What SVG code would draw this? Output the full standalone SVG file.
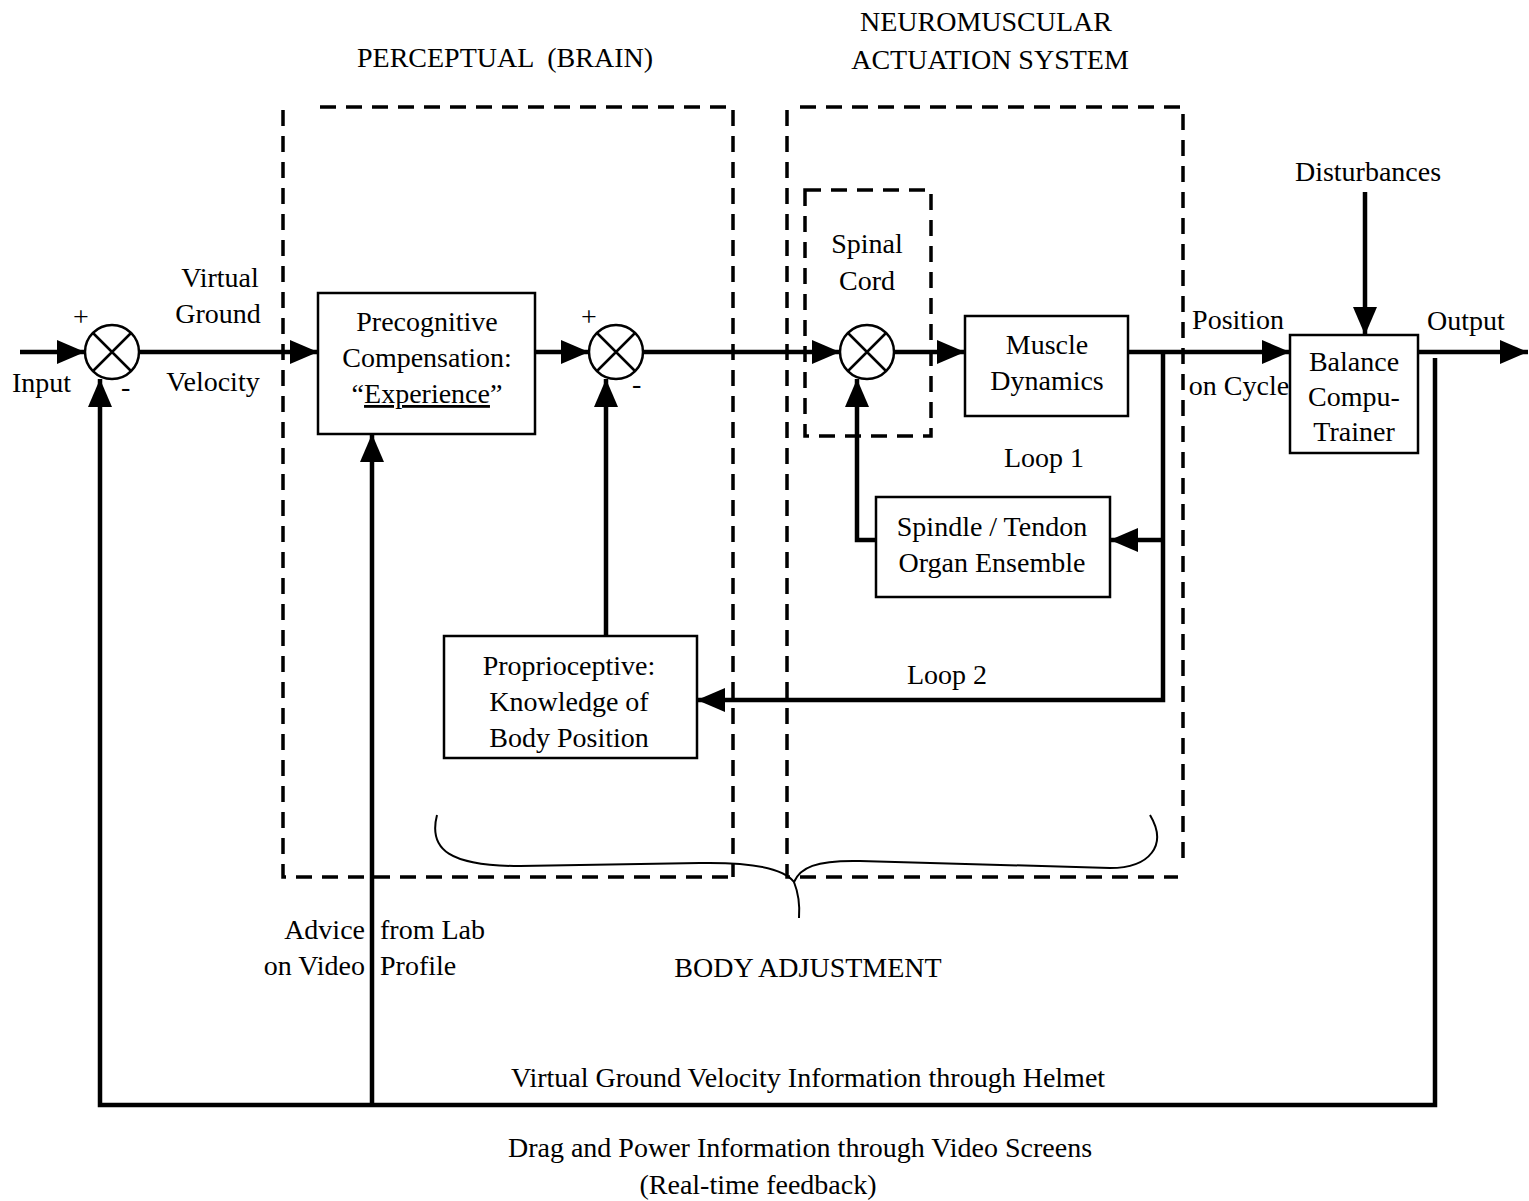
<svg xmlns="http://www.w3.org/2000/svg" width="1529" height="1201" viewBox="0 0 1529 1201">
<style>
text{font-family:"Liberation Serif","Times New Roman",serif;font-size:28px;fill:#000}
.c{text-anchor:middle}
.e{text-anchor:end}
.box{fill:#fff;stroke:#000;stroke-width:2.5}
.sum{fill:#fff;stroke:#000;stroke-width:2.5}
.x{stroke:#000;stroke-width:2.5}
.w{fill:none;stroke:#000;stroke-width:4.5}
.dash{fill:none;stroke:#000;stroke-width:3.5;stroke-dasharray:16 10}
.brace{fill:none;stroke:#000;stroke-width:2}
</style>
<defs>
<marker id="ah" markerUnits="userSpaceOnUse" markerWidth="30" markerHeight="24" refX="28" refY="12" orient="auto">
<path d="M0,0 L28,12 L0,24 z" fill="#000"/>
</marker>
</defs>

<g id="region-perceptual">
<path class="dash" d="M283,110 V877 H733 M320,107 H733 V877"/>
<text class="c" x="505" y="67" xml:space="preserve">PERCEPTUAL  (BRAIN)</text>
</g>
<g id="region-neuromuscular">
<path class="dash" d="M787,110 V877 H1178 M800,107 H1183 V868"/>
<text class="c" x="986" y="31">NEUROMUSCULAR</text>
<text class="c" x="990" y="69">ACTUATION SYSTEM</text>
</g>
<g id="region-spinal">
<rect class="dash" x="805" y="190" width="126" height="246"/>
<text class="c" x="867" y="253">Spinal</text>
<text class="c" x="867" y="290">Cord</text>
</g>

<g id="connectors">
<path class="w" d="M20,352 H85" marker-end="url(#ah)"/>
<path class="w" d="M139,352 H318" marker-end="url(#ah)"/>
<path class="w" d="M535,352 H589" marker-end="url(#ah)"/>
<path class="w" d="M643,352 H840" marker-end="url(#ah)"/>
<path class="w" d="M894,352 H965" marker-end="url(#ah)"/>
<path class="w" d="M1128,352 H1290" marker-end="url(#ah)"/>
<path class="w" d="M1418,352 H1528" marker-end="url(#ah)"/>
<path class="w" d="M1365,192 V335" marker-end="url(#ah)"/>
<path class="w" d="M1163,352 V700 H697" marker-end="url(#ah)"/>
<path class="w" d="M1163,540 H1110" marker-end="url(#ah)"/>
<path class="w" d="M876,540 H857 V379" marker-end="url(#ah)"/>
<path class="w" d="M606,636 V379" marker-end="url(#ah)"/>
<path class="w" d="M1435,358 V1105 H100 V379" marker-end="url(#ah)"/>
<path class="w" d="M372,1105 V434" marker-end="url(#ah)"/>
</g>

<g id="sum1">
<circle class="sum" cx="112" cy="352" r="27"/>
<path class="x" d="M93,333 L131,371 M131,333 L93,371"/>
<text x="73" y="326" font-size="26">+</text>
<text x="121" y="396" font-size="26">-</text>
</g>
<g id="sum2">
<circle class="sum" cx="616" cy="352" r="27"/>
<path class="x" d="M597,333 L635,371 M635,333 L597,371"/>
<text x="581" y="326" font-size="26">+</text>
<text x="632" y="393" font-size="26">-</text>
</g>
<g id="sum3">
<circle class="sum" cx="867" cy="352" r="27"/>
<path class="x" d="M848,333 L886,371 M886,333 L848,371"/>
</g>

<g id="precognitive">
<rect class="box" x="318" y="293" width="217" height="141"/>
<text class="c" x="427" y="331">Precognitive</text>
<text class="c" x="427" y="367">Compensation:</text>
<text class="c" x="427" y="403">“<tspan text-decoration="underline">Experience</tspan>”</text>
</g>
<g id="muscle">
<rect class="box" x="965" y="316" width="163" height="100"/>
<text class="c" x="1047" y="354">Muscle</text>
<text class="c" x="1047" y="390">Dynamics</text>
</g>
<g id="spindle">
<rect class="box" x="876" y="497" width="234" height="100"/>
<text class="c" x="992" y="536">Spindle / Tendon</text>
<text class="c" x="992" y="572">Organ Ensemble</text>
</g>
<g id="proprioceptive">
<rect class="box" x="444" y="636" width="253" height="122"/>
<text class="c" x="569" y="675">Proprioceptive:</text>
<text class="c" x="569" y="711">Knowledge of</text>
<text class="c" x="569" y="747">Body Position</text>
</g>
<g id="balance">
<rect class="box" x="1290" y="335" width="128" height="118"/>
<text class="c" x="1354" y="371">Balance</text>
<text class="c" x="1354" y="406">Compu-</text>
<text class="c" x="1354" y="441">Trainer</text>
</g>

<g id="labels">
<text x="12" y="392">Input</text>
<text class="c" x="220" y="287">Virtual</text>
<text class="c" x="218" y="323">Ground</text>
<text class="c" x="213" y="391">Velocity</text>
<text class="c" x="1368" y="181">Disturbances</text>
<text class="c" x="1466" y="330">Output</text>
<text class="c" x="1238" y="329">Position</text>
<text class="c" x="1239" y="395">on Cycle</text>
<text class="c" x="1044" y="467">Loop 1</text>
<text class="c" x="947" y="684">Loop 2</text>
<text class="e" x="365" y="939">Advice</text>
<text x="380" y="939">from Lab</text>
<text class="e" x="365" y="975">on Video</text>
<text x="380" y="975">Profile</text>
<text class="c" x="808" y="977">BODY ADJUSTMENT</text>
<text class="c" x="808" y="1087">Virtual Ground Velocity Information through Helmet</text>
<text class="c" x="800" y="1157">Drag and Power Information through Video Screens</text>
<text class="c" x="758" y="1194">(Real-time feedback)</text>
</g>

<g id="brace">
<path class="brace" d="M437,815 C428,850 450,866 520,866 L700,863 C760,862 785,870 794,882 C800,868 815,860 860,861 L1110,868 C1150,868 1168,845 1150,815"/>
<path class="brace" d="M794,882 C798,892 800,905 799,918"/>
</g>
</svg>
